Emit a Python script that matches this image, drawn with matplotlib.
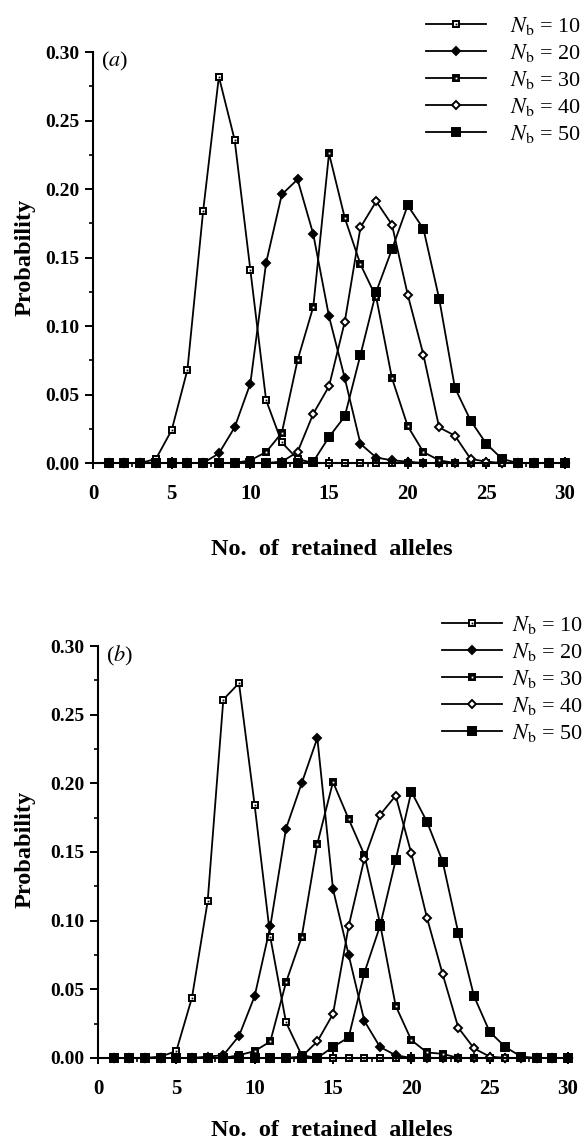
#!/usr/bin/env python3
"""
    Probability distribution of the number of retained alleles,
    panels (a) and (b), for several numbers of breeders N_b.
"""

import numpy as np
import matplotlib
matplotlib.use('Agg')
from matplotlib import pyplot as plt
from matplotlib.ticker import MultipleLocator, FormatStrFormatter

plt.rcParams['font.family'] = ['Liberation Serif', 'DejaVu Serif']
plt.rcParams['mathtext.fontset'] = 'stix'

alleles = np.arange(1, 31)
nb_labels = [10, 20, 30, 40, 50]

# panel (a)
a_nb10 = [0, 0, 0, 0.003, 0.024, 0.068, 0.184, 0.282, 0.236, 0.141,
          0.046, 0.015, 0.003, 0, 0, 0, 0, 0, 0, 0,
          0, 0, 0, 0, 0, 0, 0, 0, 0, 0]
a_nb20 = [0, 0, 0, 0, 0, 0, 0, 0.007, 0.026, 0.058,
          0.146, 0.196, 0.207, 0.167, 0.107, 0.062, 0.014, 0.004, 0.002, 0.001,
          0, 0, 0, 0, 0, 0, 0, 0, 0, 0]
a_nb30 = [0, 0, 0, 0, 0, 0, 0, 0, 0, 0.002,
          0.008, 0.022, 0.075, 0.114, 0.226, 0.179, 0.145, 0.121, 0.062, 0.027,
          0.008, 0.002, 0, 0, 0, 0, 0, 0, 0, 0]
a_nb40 = [0, 0, 0, 0, 0, 0, 0, 0, 0, 0,
          0, 0.001, 0.008, 0.036, 0.056, 0.103, 0.172, 0.191, 0.174, 0.123,
          0.079, 0.026, 0.020, 0.003, 0.001, 0, 0, 0, 0, 0]
a_nb50 = [0, 0, 0, 0, 0, 0, 0, 0, 0, 0,
          0, 0, 0, 0.001, 0.019, 0.034, 0.079, 0.125, 0.156, 0.188,
          0.171, 0.120, 0.055, 0.031, 0.014, 0.003, 0, 0, 0, 0]

# panel (b)
b_nb10 = [0, 0, 0, 0.001, 0.005, 0.044, 0.114, 0.261, 0.273, 0.184,
          0.088, 0.026, 0.002, 0, 0, 0, 0, 0, 0, 0,
          0, 0, 0, 0, 0, 0, 0, 0, 0, 0]
b_nb20 = [0, 0, 0, 0, 0, 0, 0.001, 0.002, 0.016, 0.045,
          0.096, 0.167, 0.200, 0.233, 0.123, 0.075, 0.027, 0.008, 0.002, 0,
          0, 0, 0, 0, 0, 0, 0, 0, 0, 0]
b_nb30 = [0, 0, 0, 0, 0, 0, 0, 0, 0.002, 0.005,
          0.012, 0.055, 0.088, 0.156, 0.201, 0.174, 0.148, 0.098, 0.038, 0.013,
          0.004, 0.003, 0, 0, 0, 0, 0, 0, 0, 0]
b_nb40 = [0, 0, 0, 0, 0, 0, 0, 0, 0, 0,
          0, 0, 0.001, 0.012, 0.032, 0.096, 0.145, 0.177, 0.191, 0.149,
          0.102, 0.061, 0.022, 0.007, 0.001, 0, 0, 0, 0, 0]
b_nb50 = [0, 0, 0, 0, 0, 0, 0, 0, 0, 0,
          0, 0, 0, 0, 0.008, 0.015, 0.062, 0.096, 0.144, 0.194,
          0.172, 0.143, 0.091, 0.045, 0.019, 0.008, 0.001, 0, 0, 0]

# marker styles: (marker, size, face, centre dot colour or None)
STYLES = [('s', 4.8, 'white', 'black'),
          ('D', 4.2, 'black', None),
          ('s', 5.0, 'black', 'white'),
          ('D', 3.8, 'white', None),
          ('s', 6.0, 'black', None)]


def draw_panel(ax, curves, tag):
    handles = []
    for vals, (mk, ms, fc, dot) in zip(curves, STYLES):
        ln, = ax.plot(alleles, vals, color='black', lw=1.3, marker=mk,
                      ms=ms, mfc=fc, mec='black', mew=1.4, clip_on=False)
        h = ln
        if dot is not None:
            dt, = ax.plot(alleles, vals, ls='none', marker='s', ms=1.3,
                          mfc=dot, mec=dot, mew=0, clip_on=False)
            h = (ln, dt)
        handles.append(h)

    ax.set_xlim(0, 30)
    ax.set_ylim(0, 0.30)
    for side in ('top', 'right'):
        ax.spines[side].set_visible(False)
    for side in ('left', 'bottom'):
        ax.spines[side].set_linewidth(1.5)

    ax.xaxis.set_major_locator(MultipleLocator(5))
    ax.xaxis.set_minor_locator(MultipleLocator(2.5))
    ax.yaxis.set_major_locator(MultipleLocator(0.05))
    ax.yaxis.set_minor_locator(MultipleLocator(0.025))
    ax.yaxis.set_major_formatter(FormatStrFormatter('%.2f'))

    ax.tick_params(axis='x', which='major', direction='inout', length=8,
                   width=1.4, pad=11)
    ax.tick_params(axis='x', which='minor', direction='out', length=3,
                   width=1.2)
    ax.tick_params(axis='y', which='major', direction='out', length=6,
                   width=1.4, pad=4)
    ax.tick_params(axis='y', which='minor', direction='out', length=3,
                   width=1.2)
    for lab in ax.get_yticklabels():
        lab.set_fontweight('bold')
        lab.set_fontsize(14)
    for lab in ax.get_xticklabels():
        lab.set_fontweight('bold')
        lab.set_fontsize(15)

    ax.set_ylabel('Probability', fontsize=17.5, fontweight='bold')
    ax.set_xlabel('No.  of  retained  alleles', fontsize=17.5,
                  fontweight='bold')
    ax.text(0.017, 0.976, f'(${tag}$)', transform=ax.transAxes,
            fontsize=16, va='center', ha='left')
    return handles


fig = plt.figure(figsize=(5.86, 11.43), dpi=100)
ax_a = fig.add_axes([0.1587, 0.5949, 0.8055, 0.3596])
ax_b = fig.add_axes([0.1672, 0.0744, 0.8021, 0.3604])

hand_a = draw_panel(ax_a, [a_nb10, a_nb20, a_nb30, a_nb40, a_nb50], 'a')
hand_b = draw_panel(ax_b, [b_nb10, b_nb20, b_nb30, b_nb40, b_nb50], 'b')

ax_a.yaxis.set_label_coords(-0.121, 0.5)
ax_a.xaxis.set_label_coords(0.505, -0.185)
ax_b.yaxis.set_label_coords(-0.132, 0.505)
ax_b.xaxis.set_label_coords(0.497, -0.15)

labels = [r'$N_\mathrm{b}$ = ' + str(n) for n in nb_labels]
fig.legend(hand_a, labels, loc='upper left', frameon=False,
           bbox_to_anchor=(426 / 586, 1 - 15 / 1143), borderpad=0,
           borderaxespad=0, handlelength=2.7, handletextpad=1.1,
           labelspacing=0.22, fontsize=16)
fig.legend(hand_b, labels, loc='upper left', frameon=False,
           bbox_to_anchor=(442 / 586, 1 - 614 / 1143), borderpad=0,
           borderaxespad=0, handlelength=2.7, handletextpad=0.45,
           labelspacing=0.22, fontsize=16)

fig.savefig('out.png', dpi=100)
